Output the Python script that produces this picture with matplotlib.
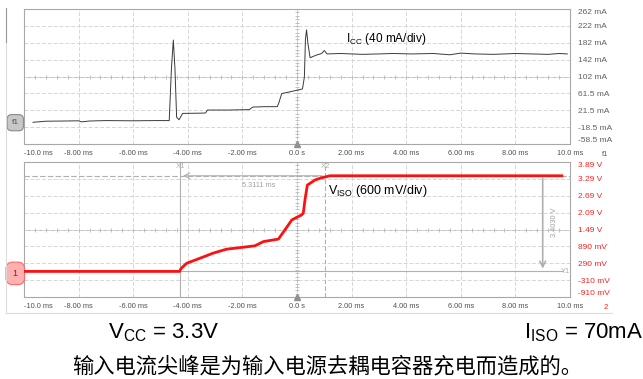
import matplotlib
matplotlib.use('Agg')
import matplotlib.pyplot as plt
from matplotlib.lines import Line2D

plt.rcParams['font.family'] = ['Liberation Sans', 'DejaVu Sans']

# Icc trace (ms, mA)
icc_t = [-9.67, -9.2, -8.5, -8.0, -7.9, -7.6, -7.0, -6.0, -5.2, -4.68,
         -4.60, -4.53, -4.47, -4.41, -4.32, -4.19, -3.6, -3.35, -3.28, -2.5,
         -1.75, -1.62, -1.2, -0.72, -0.66, -0.56, -0.2, 0.2, 0.27, 0.31,
         0.35, 0.40, 0.48, 0.7, 0.9, 1.0, 1.1, 1.6, 2.4, 3.0,
         3.5, 4.2, 5.0, 5.6, 6.0, 6.5, 7.2, 8.0, 8.6, 9.2, 9.6, 9.9]
icc_ma = [-7, -4.5, -4, -3.5, -6, -4, -3, -3.5, -3, -3,
          120, 188, 120, 5, -1, 14, 14.5, 15, 22, 22,
          23, 29, 30, 30, 40, 61, 66, 72, 100, 190,
          212, 180, 146, 152, 156, 163, 155, 156, 154, 155,
          156, 155, 156, 153, 157, 155, 154, 156, 155, 154, 156, 155]

# Viso trace (ms, V)
viso_t = [-10.0, -4.30, -4.25, -4.04, -3.55, -3.07, -2.58, -1.97, -1.54, -1.23,
          -0.68, -0.44, -0.19, 0.17, 0.23, 0.30, 0.38, 0.66, 0.84, 1.2, 9.7]
viso_v = [0.0, 0.0, 0.1, 0.29, 0.47, 0.65, 0.79, 0.86, 0.91, 1.06,
          1.15, 1.48, 1.83, 2.01, 2.07, 2.6, 3.07, 3.25, 3.31, 3.40, 3.40]

x_ticks = [-10, -8, -6, -4, -2, 0, 2, 4, 6, 8, 10]
x_labels = ['-10.0 ms', '-8.00 ms', '-6.00 ms', '-4.00 ms', '-2.00 ms', '0.0 s',
            '2.00 ms', '4.00 ms', '6.00 ms', '8.00 ms', '10.0 ms']
icc_ticks = [261.5, 221.5, 181.5, 141.5, 101.5, 61.5, 21.5, -18.5, -58.5]
icc_labels = ['262 mA', '222 mA', '182 mA', '142 mA', '102 mA', '61.5 mA',
              '21.5 mA', '-18.5 mA', '-58.5 mA']
v_ticks = [3.89, 3.29, 2.69, 2.09, 1.49, 0.89, 0.29, -0.31, -0.91]
v_labels = ['3.89 V', '3.29 V', '2.69 V', '2.09 V', '1.49 V', '890 mV',
            '290 mV', '-310 mV', '-910 mV']

x1_cursor, x2_cursor = -4.28, 1.03
y1_cursor, y2_cursor = 0.0, 3.40

W, H = 643, 379
fig = plt.figure(figsize=(W / 100, H / 100), dpi=100)

def px_axes(x0, y0, x1, y1):
    return fig.add_axes([x0 / W, 1 - y1 / H, (x1 - x0) / W, (y1 - y0) / H])

ax1 = px_axes(24, 9, 570, 144)
ax2 = px_axes(24, 162, 570, 297)

grid_c = '#d6d6d6'
frame_c = '#a8a8a8'

def scope_axes(ax, yticks, ylabels, ycolor, ylim):
    ax.set_xlim(-10, 10)
    ax.set_ylim(*ylim)
    ax.set_xticks(x_ticks)
    ax.set_xticklabels(x_labels)
    ax.set_yticks(yticks)
    ax.set_yticklabels(ylabels)
    ax.yaxis.tick_right()
    ax.tick_params(axis='x', length=0, pad=4, labelsize=5.3, labelcolor='#505050')
    ax.tick_params(axis='y', length=0, pad=6, labelsize=6, labelcolor=ycolor)
    xl = ax.get_xticklabels()
    xl[0].set_horizontalalignment('left')
    yl = ax.get_yticklabels()
    yl[0].set_verticalalignment('top')
    yl[-1].set_verticalalignment('bottom')
    ax.grid(True, color=grid_c, lw=0.7, ls=(0, (4, 2)))
    for s in ax.spines.values():
        s.set_color(frame_c)
        s.set_linewidth(0.8)
    # centre graticule with minor ticks
    ymid = (ylim[0] + ylim[1]) / 2
    ax.axhline(ymid, color='#b8b8b8', lw=0.7, zorder=1)
    ax.axvline(0, color='#b8b8b8', lw=0.7, ls=(0, (3, 2)), zorder=1)
    mx = [i * 0.4 - 10 for i in range(51)]
    ax.plot(mx, [ymid] * len(mx), ls='none', marker='|', ms=3, mew=0.6, color='#b8b8b8')
    dy = (ylim[1] - ylim[0]) / 40
    my = [ylim[0] + i * dy for i in range(41)]
    ax.plot([0] * len(my), my, ls='none', marker='_', ms=3, mew=0.6, color='#b8b8b8')
    # trigger marker
    ax.plot([0], [ylim[0]], marker='^', ms=5, color='#909090', clip_on=False, zorder=5)

scope_axes(ax1, icc_ticks, icc_labels, '#606060', (-58.5, 261.5))
scope_axes(ax2, v_ticks, v_labels, '#ff2020', (-0.91, 3.89))

# corner labels aligned with the x tick labels
ax1.text(1.065, -0.08, 'f1', transform=ax1.transAxes, ha='center', va='center',
         fontsize=5.5, color='#606060')
ax2.text(1.065, -0.08, '2', transform=ax2.transAxes, ha='center', va='center',
         fontsize=5.5, color='#ff2020')

# traces
ax1.plot(icc_t, icc_ma, color='#3a3a3a', lw=0.7, zorder=4)
ax1.text(1.8, 191, r'I$_{\mathregular{CC}}$ (40 mA/div)', fontsize=8.5, color='black',
         va='center')

# cursors
cur_c = '#b0b0b0'
ax2.axvline(x1_cursor, color=cur_c, lw=0.8, zorder=2)
ax2.axvline(x2_cursor, color=cur_c, lw=0.8, ls=(0, (4, 2)), zorder=2)
ax2.axhline(y2_cursor, color=cur_c, lw=0.8, ls=(0, (5, 2)), zorder=2)
ax2.plot([-10, 9.75], [y1_cursor, y1_cursor], color=cur_c, lw=0.8, zorder=2)
ax2.annotate('', xy=(x1_cursor, y2_cursor), xytext=(x2_cursor, y2_cursor),
             arrowprops=dict(arrowstyle='->', color=cur_c, lw=0.8))
ax2.annotate('', xy=(9.0, y1_cursor), xytext=(9.0, y2_cursor),
             arrowprops=dict(arrowstyle='->', color=cur_c, lw=1.2))
ax2.text(x1_cursor, 3.72, 'X1', fontsize=5.5, color=cur_c, ha='center', va='center')
ax2.text(x2_cursor, 3.72, 'X2', fontsize=5.5, color=cur_c, ha='center', va='center')
ax2.text(9.85, y1_cursor, 'Y1', fontsize=5.5, color=cur_c, ha='center', va='center')
ax2.text(-1.39, 3.04, '5.3111 ms', fontsize=5.3, color='#a0a0a0', ha='center', va='center')
ax2.text(9.45, 1.76, '3.4030 V', fontsize=5.3, color='#a0a0a0', ha='center',
         va='center', rotation=90)

ax2.plot(viso_t, viso_v, color='#ff1010', lw=2.0, zorder=4)
ax2.text(1.14, 2.86, r'V$_{\mathregular{ISO}}$ (600 mV/div)', fontsize=9, color='black',
         va='center')

# channel icons
ax1.text(-0.016, -8, 'f1', transform=ax1.get_yaxis_transform(), ha='center', va='center',
         fontsize=6, color='#555555',
         bbox=dict(boxstyle='round,pad=0.55', fc='#c8c8c8', ec='#8a8a8a', lw=0.8))
ax2.text(-0.016, -0.07, '1', transform=ax2.get_yaxis_transform(), ha='center', va='center',
         fontsize=6.5, color='#cc0000',
         bbox=dict(boxstyle='round,pad=0.75', fc='#ffb0b0', ec='#ff6a6a', lw=0.8))

# outer frame of the screenshot
fig.add_artist(Line2D([6 / W, 6 / W], [1 - 8 / H, 1 - 313 / H], color='#dcdcdc', lw=0.8))
fig.add_artist(Line2D([6 / W, 6 / W], [1 - 8 / H, 1 - 42 / H], color='#9a9a9a', lw=0.8))
fig.add_artist(Line2D([6 / W, 612 / W], [1 - 313 / H, 1 - 313 / H], color='#dcdcdc', lw=0.8))

# captions
fig.text(108 / W, 1 - 333 / H, r'V$_{\mathregular{CC}}$ = 3.3V', fontsize=16,
         va='center', ha='left')
fig.text(643 / W, 1 - 333 / H, r'I$_{\mathregular{ISO}}$ = 70mA', fontsize=16,
         va='center', ha='right')
fig.text(327 / W, 1 - 366 / H, '输入电流尖峰是为输入电源去耦电容器充电而造成的。',
         fontsize=15.3, va='center', ha='center',
         family=['Noto Sans CJK SC', 'DejaVu Sans'])

fig.savefig('out.png', dpi=100)
